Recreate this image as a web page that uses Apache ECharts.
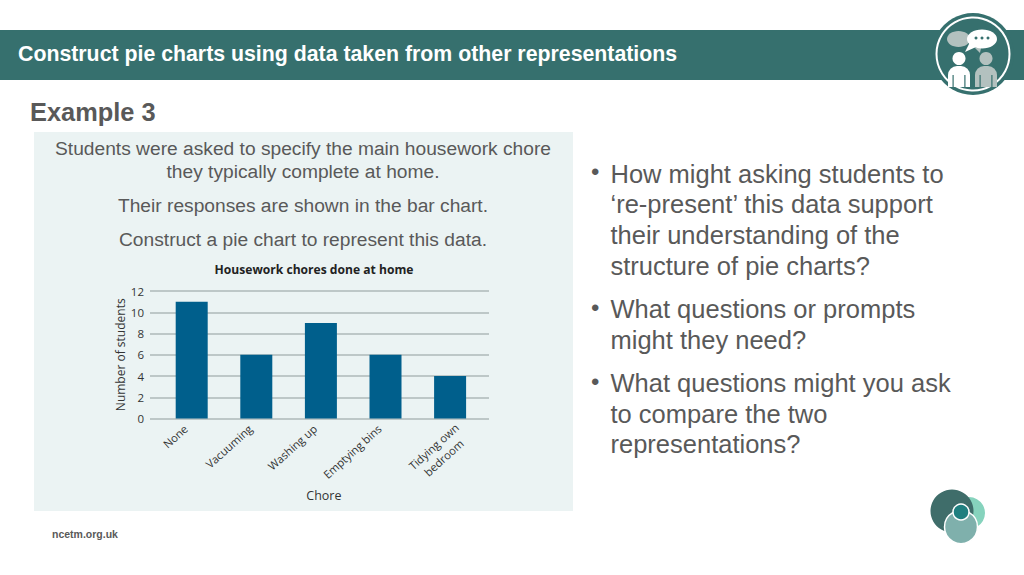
<!DOCTYPE html>
<html>
<head>
<meta charset="utf-8">
<style>
html, body { margin: 0; padding: 0; background: #fff; }
#chart { width: 1024px; height: 575px; }
</style>
<script src="https://cdn.jsdelivr.net/npm/echarts@6/dist/echarts.min.js"></script>
</head>
<body>
<div id="chart"></div>
<script>
var chores = ['None', 'Vacuuming', 'Washing up', 'Emptying bins', 'Tidying own\nbedroom'];
var students = [11, 6, 9, 6, 4];
var yMax = 12;
var yStep = 2;

var introLines = [
    ['Students were asked to specify the main housework chore', 148],
    ['they typically complete at home.', 171],
    ['Their responses are shown in the bar chart.', 205],
    ['Construct a pie chart to represent this data.', 239]
];
var bulletLines = [
    ['How might asking students to', 173.5, true],
    ['\u2018re-present\u2019 this data support', 204],
    ['their understanding of the', 234.5],
    ['structure of pie charts?', 265.5],
    ['What questions or prompts', 309, true],
    ['might they need?', 339.5],
    ['What questions might you ask', 383, true],
    ['to compare the two', 413.5],
    ['representations?', 444]
];

var slideFont = '"Liberation Sans", Arial, sans-serif';
var chartFont = '"Open Sans", "Noto Sans", sans-serif';
var teal = '#36706e';

function text(x, y, str, size, color, weight, align) {
    return {
        type: 'text', x: x, y: y, z: 5,
        style: {
            text: str, fill: color, fontSize: size, fontFamily: slideFont,
            fontWeight: weight || 'normal', align: align || 'left', verticalAlign: 'middle'
        }
    };
}
function disc(x, y, r, fill, stroke, lineWidth) {
    return {
        type: 'circle', z: 4,
        shape: { cx: x, cy: y, r: r },
        style: { fill: fill, stroke: stroke || null, lineWidth: lineWidth || 0 }
    };
}
function person(x, color) {
    return [
        disc(x, 58.5, 6.5, color),
        {
            type: 'rect', z: 4,
            shape: { x: x - 11, y: 66, width: 22, height: 21, r: [9, 9, 0, 0] },
            style: { fill: color }
        },
        { type: 'rect', z: 4, shape: { x: x - 6.5, y: 75, width: 1.2, height: 12 }, style: { fill: teal } },
        { type: 'rect', z: 4, shape: { x: x + 5.3, y: 75, width: 1.2, height: 12 }, style: { fill: teal } }
    ];
}

var slide = [
    { type: 'rect', z: 0, shape: { x: 0, y: 30, width: 1024, height: 50 }, style: { fill: teal } },
    { type: 'rect', z: 0, shape: { x: 34, y: 132, width: 539, height: 379 }, style: { fill: '#ebf3f3' } },
    text(18, 54, 'Construct pie charts using data taken from other representations', 21.3, '#fff', 'bold'),
    text(30, 112, 'Example 3', 25.4, '#595959', 'bold'),
    text(52, 533.5, 'ncetm.org.uk', 10.5, '#595959', 'bold'),
    // header badge
    disc(973, 54, 41, teal, '#fff', 0),
    disc(973, 54, 36.5, teal, '#fff', 2),
    { type: 'ellipse', z: 4, shape: { cx: 958.5, cy: 39, rx: 11.5, ry: 8 }, style: { fill: '#b3c1bf' } },
    { type: 'polygon', z: 4, shape: { points: [[975, 48], [981, 48], [980, 53]] }, style: { fill: '#b3c1bf' } },
    { type: 'ellipse', z: 4, shape: { cx: 982, cy: 39, rx: 15, ry: 9.5 }, style: { fill: '#fff' } },
    { type: 'polygon', z: 4, shape: { points: [[970, 42], [976, 47], [965, 52]] }, style: { fill: '#fff' } },
    disc(976, 38, 1.5, teal), disc(982, 38, 1.5, teal), disc(988, 38, 1.5, teal)
].concat(person(959, '#fff'), person(986, '#b3c1bf'), [
    // footer logo
    disc(969, 513, 16, '#86d3bd'),
    disc(952, 511, 21.5, '#3f6d6a'),
    disc(961, 527, 16.5, '#7fb0ac', '#fff', 1.5),
    disc(961, 512, 8, '#1f7f7f', '#fff', 1.5)
]);

introLines.forEach(function (l) {
    slide.push(text(303, l[1], l[0], 19.2, '#595959', 'normal', 'center'));
});
bulletLines.forEach(function (l) {
    if (l[2]) {
        slide.push(text(591, l[1] - 2, '\u2022', 24, '#595959'));
    }
    slide.push(text(610.5, l[1], l[0], 25.5, '#595959'));
});

// the two-line label is centred on itself, so it gets its own alignment
var choreLabels = chores.map(function (c) {
    if (c.indexOf('\n') < 0) {
        return c;
    }
    return { value: c, textStyle: { align: 'center', verticalAlign: 'top', lineHeight: 15, padding: [0, 58, 0, 0] } };
});

var myChart = echarts.init(document.getElementById('chart'), null, { renderer: 'svg' });

var option = {
    animation: false,
    backgroundColor: '#fff',
    title: {
        text: 'Housework chores done at home',
        left: 309, top: 258, textAlign: 'center',
        textStyle: { fontFamily: chartFont, fontSize: 12.1, fontWeight: 'bold', color: '#222' }
    },
    grid: [
        // gridlines run wider than the bars' band
        { left: 150, right: 535, top: 291, height: 127.5 },
        { left: 159.4, right: 541.6, top: 291, height: 127.5 }
    ],
    xAxis: [
        { type: 'value', gridIndex: 0, show: false, min: 0, max: 1 },
        {
            type: 'category', gridIndex: 1, data: choreLabels,
            name: 'Chore', nameLocation: 'middle', nameGap: 70,
            nameTextStyle: { fontFamily: chartFont, fontSize: 12.5, color: '#333', padding: [0, 0, 0, 6] },
            axisLine: { show: false },
            axisTick: { show: false },
            axisLabel: {
                rotate: 42, interval: 0, margin: 3, lineHeight: 14, padding: [0, 8, 0, 0],
                fontFamily: chartFont, fontSize: 11.2, color: '#333'
            }
        }
    ],
    yAxis: [
        {
            type: 'value', gridIndex: 0, min: 0, max: yMax, interval: yStep,
            name: 'Number of students', nameLocation: 'middle', nameGap: 21,
            nameTextStyle: { fontFamily: chartFont, fontSize: 12, color: '#333' },
            axisLine: { show: false },
            axisTick: { show: false },
            axisLabel: { margin: 6, fontFamily: chartFont, fontSize: 11.5, color: '#333' },
            splitLine: { lineStyle: { color: '#aeb8b8', width: 1.5 } }
        },
        { type: 'value', gridIndex: 1, show: false, min: 0, max: yMax }
    ],
    series: [
        {
            type: 'bar', xAxisIndex: 1, yAxisIndex: 1, z: 3,
            barWidth: 32, data: students,
            itemStyle: { color: '#005f8c' }
        }
    ],
    graphic: slide
};
myChart.setOption(option);
</script>
</body>
</html>
